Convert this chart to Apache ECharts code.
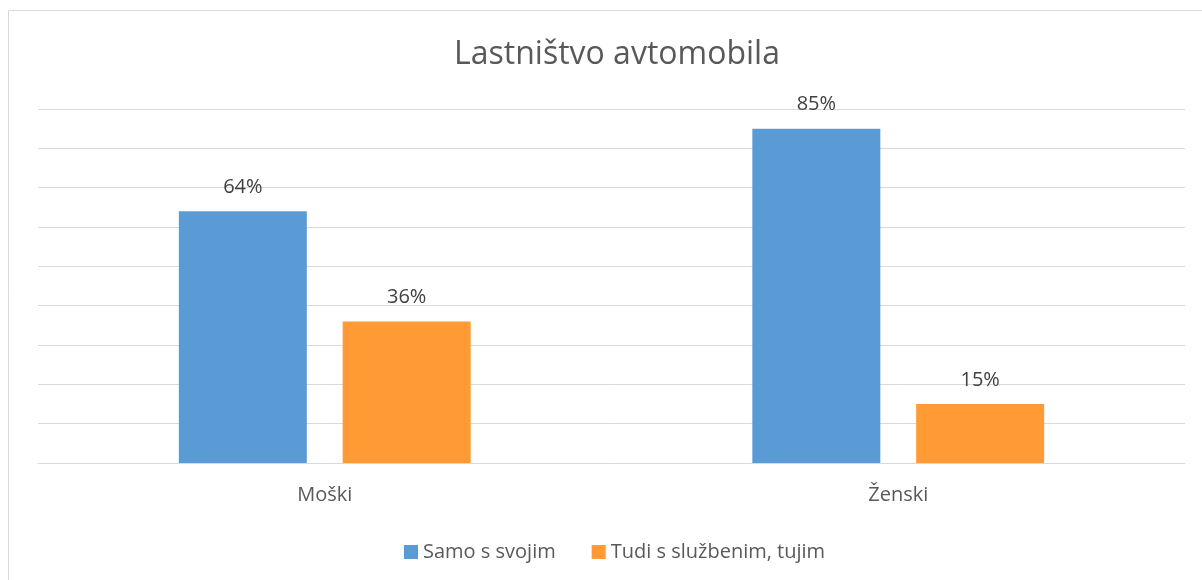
<!DOCTYPE html>
<html>
<head>
<meta charset="utf-8">
<script src="https://cdn.jsdelivr.net/npm/echarts@6/dist/echarts.min.js"></script>
<style>
  html, body { margin: 0; padding: 0; background: #fff; }
  #chart { width: 1202px; height: 580px; }
</style>
</head>
<body>
<div id="chart"></div>
<script>
let categories = ['Moški', 'Ženski'];
let seriesNames = ['Samo s svojim', 'Tudi s službenim, tujim'];
let ownValues = [0.64, 0.85];
let otherValues = [0.36, 0.15];
let colors = ['#5b9bd5', '#ff9a35'];

let font = '"Open Sans", "Noto Sans", sans-serif';
let chart = echarts.init(document.getElementById('chart'));

function labelOpt() {
    return {
        show: true,
        position: 'top',
        distance: 14,
        color: '#404040',
        fontSize: 20,
        fontFamily: font,
        formatter: function (p) {
            return Math.round(p.value * 100) + '%';
        }
    };
}

chart.setOption({
    animation: false,
    textStyle: { fontFamily: font },
    title: {
        text: 'Lastništvo avtomobila',
        left: 612,
        textAlign: 'center',
        top: 34,
        textStyle: { color: '#595959', fontSize: 32, fontWeight: 'normal', fontFamily: font }
    },
    legend: {
        left: 399,
        top: 537,
        itemWidth: 14,
        itemHeight: 14,
        itemGap: 36,
        icon: 'rect',
        textStyle: { color: '#595959', fontSize: 20, fontFamily: font },
        data: seriesNames
    },
    grid: { left: 38, right: 17, top: 109, bottom: 117 },
    xAxis: {
        type: 'category',
        data: categories,
        axisLine: { lineStyle: { color: '#d9d9d9', width: 1 } },
        axisTick: { show: false },
        axisLabel: { color: '#595959', fontSize: 20, fontFamily: font, margin: 22 }
    },
    yAxis: {
        type: 'value',
        min: 0,
        max: 0.9,
        interval: 0.1,
        axisLabel: { show: false },
        axisLine: { show: false },
        axisTick: { show: false },
        splitLine: { lineStyle: { color: '#d9d9d9', width: 1 } }
    },
    graphic: [{
        type: 'rect',
        shape: { x: 8.5, y: 10.5, width: 1220, height: 600 },
        style: { fill: 'none', stroke: '#d9d9d9', lineWidth: 1 },
        silent: true
    }],
    series: [
        {
            name: seriesNames[0],
            type: 'bar',
            data: ownValues,
            barWidth: 128,
            barGap: '28%',
            itemStyle: { color: colors[0] },
            label: labelOpt()
        },
        {
            name: seriesNames[1],
            type: 'bar',
            data: otherValues,
            barWidth: 128,
            barGap: '28%',
            itemStyle: { color: colors[1] },
            label: labelOpt()
        }
    ]
});
</script>
</body>
</html>
